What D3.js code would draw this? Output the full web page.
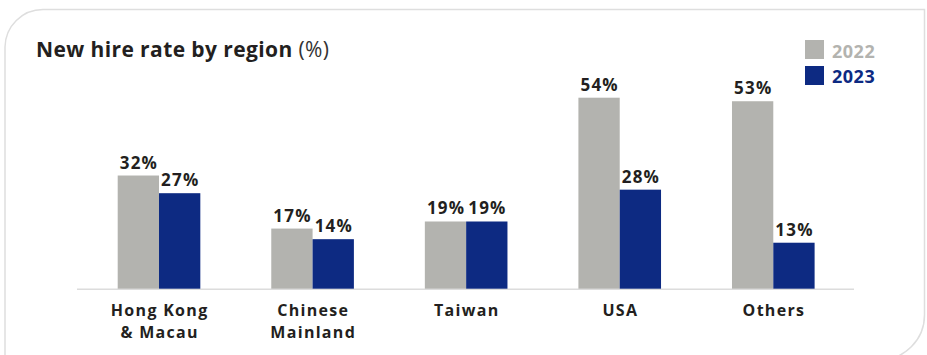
<!DOCTYPE html>
<html><head><meta charset="utf-8">
<script src="https://cdn.jsdelivr.net/npm/d3@7/dist/d3.min.js"></script>
<style>
html,body{margin:0;padding:0;background:#fff;}
svg{display:block;font-family:"Open Sans",sans-serif;}
</style></head>
<body><svg id="c" width="927" height="355"></svg>
<script>
const categories = [["Hong Kong","& Macau"],["Chinese","Mainland"],["Taiwan"],["USA"],["Others"]];
const years = ["2022","2023"];
const values2022 = [32,17,19,54,53];
const values2023 = [27,14,19,28,13];
const colors = {"2022":"#b3b3af","2023":"#0d2a82"};
const svg = d3.select("#c");

// card
svg.append("path")
  .attr("d","M5,360 L5,47 A38,38 0 0 1 43,9.5 L924.5,9.5 L924.5,315 A45,45 0 0 1 879.5,360 Z")
  .attr("fill","#fff").attr("stroke","#dedede").attr("stroke-width",1.5);

// title
const t = svg.append("text").attr("x",36).attr("y",57).attr("fill","#231f20").attr("font-size",21)
  .attr("letter-spacing",0.4);
t.append("tspan").attr("font-weight",700).text("New hire rate by region");
t.append("tspan").attr("font-weight",400).attr("fill","#333").text(" (%)");

const keys = categories.map(c=>c.join(" "));
const x0 = d3.scaleBand().domain(keys).range([117.7,814.6]).paddingInner(0.462).paddingOuter(0);
const x1 = d3.scaleBand().domain(years).range([0,x0.bandwidth()]);
const y = d3.scaleLinear().domain([0,54]).range([288.7,97.7]);

const data = keys.map((k,i)=>({key:k, vals:[{year:"2022",v:values2022[i]},{year:"2023",v:values2023[i]}]}));

// axis line
svg.append("line").attr("x1",77).attr("x2",854).attr("y1",y(0)+0.5).attr("y2",y(0)+0.5)
  .attr("stroke","#dcdcdc").attr("stroke-width",1.5);

const g = svg.selectAll("g.grp").data(data).join("g").attr("class","grp")
  .attr("transform",d=>`translate(${x0(d.key)},0)`);
g.selectAll("rect").data(d=>d.vals).join("rect")
  .attr("x",d=>x1(d.year)).attr("width",x1.bandwidth())
  .attr("y",d=>y(d.v)).attr("height",d=>y(0)-y(d.v))
  .attr("fill",d=>colors[d.year]);
g.selectAll("text.val").data(d=>d.vals).join("text").attr("class","val")
  .attr("x",d=>x1(d.year)+x1.bandwidth()/2+0.6).attr("y",d=>y(d.v)-7)
  .attr("text-anchor","middle").attr("font-size",17).attr("font-weight",700)
  .attr("letter-spacing",1.2)
  .attr("fill","#231f20").text(d=>d.v+"%");

// category labels
categories.forEach((lines,i)=>{
  const cx = x0(keys[i]) + x0.bandwidth()/2;
  lines.forEach((l,j)=>svg.append("text").attr("text-anchor","middle").attr("font-size",16)
    .attr("font-weight",700).attr("fill","#231f20").attr("letter-spacing",1.3)
    .attr("x",cx+0.65).attr("y",315.5+j*22).text(l));
});

// legend
years.forEach((yr,i)=>{
  svg.append("rect").attr("x",805).attr("y",40+i*26).attr("width",19).attr("height",19).attr("fill",colors[yr]);
  svg.append("text").attr("x",832).attr("y",58.3+i*25).attr("font-size",18).attr("font-weight",700)
    .attr("letter-spacing",0.5).attr("fill",colors[yr]).text(yr);
});
</script></body></html>
